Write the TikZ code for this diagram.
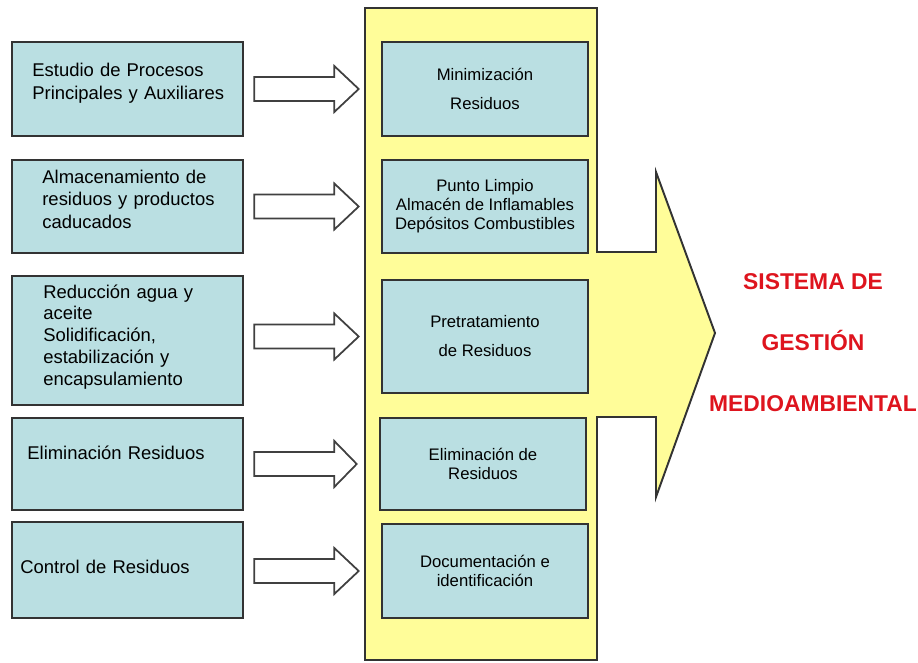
\documentclass[tikz,border=0pt]{standalone}
\usepackage{fontspec}
\setmainfont{Liberation Sans}
\usetikzlibrary{calc}
\definecolor{palecyan}{RGB}{186,223,226}
\definecolor{paleyellow}{RGB}{255,253,153}
\definecolor{signalred}{RGB}{222,20,30}

\begin{document}
\begin{tikzpicture}[
        x=0.02cm, y=-0.02cm,
        lbox/.style={draw=black!80, line width=1.5pt, fill=palecyan, minimum width=4.62cm},
        rbox/.style={draw=black!80, line width=1.5pt, fill=palecyan, minimum width=4.12cm,
            align=center, font={\fontsize{9.5}{10.8}\selectfont}},
        ltext/.style={anchor=base west, inner sep=0pt, text width=4.2cm, align=left,
            font={\fontsize{10.5}{13}\selectfont}},
        hollow/.style={draw=black!75, line width=1pt, fill=white, line join=miter},
        panel/.style={draw=black!80, line width=1.1pt, fill=paleyellow},
        title/.style={text=signalred, align=center, font={\fontsize{13}{34.7}\selectfont\bfseries}}
    ]
    \useasboundingbox (0,0) rectangle (918,662);

    %yellow column and big arrow
    \draw[panel] (365,8) -- (597,8) -- (597,252) -- (656,252) -- (656,172) -- (715,333)
        -- (656,497) -- (656,417) -- (597,417) -- (597,660) -- (365,660) -- cycle;

    %left boxes
    \node[lbox, minimum height=1.88cm] (l1) at (127.5,89) {};
    \node[lbox, minimum height=1.86cm] (l2) at (127.5,206.5) {};
    \node[lbox, minimum height=2.58cm] (l3) at (127.5,340.5) {};
    \node[lbox, minimum height=1.84cm] (l4) at (127.5,464) {};
    \node[lbox, minimum height=1.92cm] (l5) at (127.5,570) {};

    \node[ltext] (t1) at (32,77) {Estudio de Procesos\\Principales y Auxiliares};
    \node[ltext] (t2) at (42,183) {Almacenamiento de\\residuos y productos\\caducados};
    \node[ltext, font={\fontsize{10.5}{12.5}\selectfont}] (t3) at (43,298)
        {Reducción agua y\\aceite\\Solidificación,\\estabilización y\\encapsulamiento};
    \node[ltext] (t4) at (27,459) {Eliminación Residuos};
    \node[ltext] (t5) at (20,573) {Control de Residuos};

    %right boxes
    \node[rbox, minimum height=1.88cm] (r1) at (485,89) {Minimización\\[5.7pt]Residuos};
    \node[rbox, minimum height=1.86cm] (r2) at (485,206.5)
        {Punto Limpio\\Almacén de Inflamables\\Depósitos Combustibles};
    \node[rbox, minimum height=2.26cm] (r3) at (485,336.5) {Pretratamiento\\[5.7pt]de Residuos};
    \node[rbox, minimum height=1.84cm] (r4) at (483,464) {Eliminación de\\Residuos};
    \node[rbox, minimum height=1.88cm] (r5) at (485,571) {Documentación e\\identificación};

    %hollow arrows
    \foreach \i in {1,...,5}
        \draw[hollow] ($(l\i.east |- r\i.west)+(10,-12)$) -- ++(80,0) -- ++(0,-11)
            -- ($(r\i.west)+(-22,0)$) -- ($(l\i.east |- r\i.west)+(90,23)$)
            -- ++(0,-11) -- ++(-80,0) -- cycle;

    \node[title] (sgm) at (813,343) {SISTEMA DE\\GESTIÓN\\MEDIOAMBIENTAL};
\end{tikzpicture}
\end{document}
